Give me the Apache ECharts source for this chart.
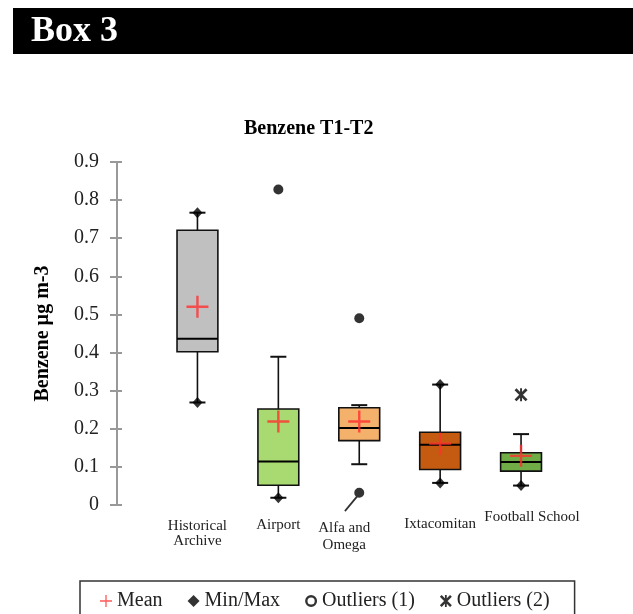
<!DOCTYPE html>
<html>
<head>
<meta charset="utf-8">
<script src="https://cdn.jsdelivr.net/npm/echarts@6/dist/echarts.min.js"></script>
<style>html,body{margin:0;padding:0;background:#fff}#c{width:633px;height:614px}</style>
</head>
<body>
<div id="c"></div>
<script>
// ---- data ----
const categories = ['Historical\nArchive', 'Airport', 'Alfa and\nOmega', 'Ixtacomitan', 'Football School'];
const whiskerLow  = [0.269, 0.019, 0.107, 0.058, 0.051];
const q1Vals      = [0.402, 0.052, 0.169, 0.093, 0.089];
const medianVals  = [0.436, 0.114, 0.202, 0.158, 0.113];
const q3Vals      = [0.721, 0.252, 0.255, 0.191, 0.137];
const whiskerHigh = [0.767, 0.389, 0.262, 0.316, 0.186];
const meanVals    = [0.520, 0.219, 0.219, 0.161, 0.129];
const minVals     = [0.269, 0.019, null, 0.058, 0.051];
const maxVals     = [0.767, null, null, 0.316, null];
const outliers1   = [[1, 0.828], [2, 0.490], [2, 0.032]];
const outliers2   = [[4, 0.289]];
const yTicks      = ['0', '0.1', '0.2', '0.3', '0.4', '0.5', '0.6', '0.7', '0.8', '0.9'];
const boxColors   = ['#c0c0c0', '#a9d971', '#f4b16b', '#c55a11', '#70ad47'];

const FONT = 'Liberation Serif';
const TXT = '#222';

const boxData = categories.map((c, i) => [i, whiskerLow[i], q1Vals[i], medianVals[i], q3Vals[i], whiskerHigh[i]]);
const meanData = meanVals.map((v, i) => [i, v]);
const minMaxData = [];
minVals.forEach((v, i) => { if (v !== null) minMaxData.push([i, v]); });
maxVals.forEach((v, i) => { if (v !== null) minMaxData.push([i, v]); });

const PLUS = 'path://M0,9.8 L22,9.8 L22,12.2 L0,12.2 Z M9.8,0 L12.2,0 L12.2,22 L9.8,22 Z';
const STAR = 'path://M0,1.8 L1.8,0 L12,10.2 L10.2,12 Z M10.2,0 L12,1.8 L1.8,12 L0,10.2 Z M5.1,0 L6.9,0 L6.9,12 L5.1,12 Z';
const PIN  = 'path://M10,5 A5,5 0 1,1 20,5 A5,5 0 1,1 10,5 Z M12.6,7.4 L14,8.6 L1.3,24 L0,22.8 Z';
const RING = 'path://M0,5 A5,5 0 1,1 10,5 A5,5 0 1,1 0,5 Z M2,5 A3,3 0 1,0 8,5 A3,3 0 1,0 2,5 Z';

const out1Data = outliers1.map((p) => {
  if (p[1] < 0.1) {
    return { value: p, symbol: PIN, symbolSize: [20, 24], symbolOffset: [-5, 7] };
  }
  return { value: p };
});

function renderBox(params, api) {
  const i = api.value(0);
  const lo = api.coord([i, api.value(1)]);
  const q1 = api.coord([i, api.value(2)]);
  const md = api.coord([i, api.value(3)]);
  const q3 = api.coord([i, api.value(4)]);
  const hi = api.coord([i, api.value(5)]);
  const band = api.size([1, 0])[0];
  const bw = band * 0.505;
  const cap = 16;
  const x = q1[0];
  const ls = { stroke: '#111', lineWidth: 1.6 };
  return {
    type: 'group',
    children: [
      { type: 'line', shape: { x1: x, y1: q3[1], x2: x, y2: hi[1] }, style: ls },
      { type: 'line', shape: { x1: x, y1: q1[1], x2: x, y2: lo[1] }, style: ls },
      { type: 'line', shape: { x1: x - cap / 2, y1: hi[1], x2: x + cap / 2, y2: hi[1] }, style: { stroke: '#111', lineWidth: 2 } },
      { type: 'line', shape: { x1: x - cap / 2, y1: lo[1], x2: x + cap / 2, y2: lo[1] }, style: { stroke: '#111', lineWidth: 2 } },
      { type: 'rect', shape: { x: x - bw / 2, y: q3[1], width: bw, height: q1[1] - q3[1] },
        style: { fill: boxColors[params.dataIndex], stroke: '#111', lineWidth: 1.6 } },
      { type: 'line', shape: { x1: x - bw / 2, y1: md[1], x2: x + bw / 2, y2: md[1] }, style: { stroke: '#000', lineWidth: 2 } }
    ]
  };
}

const labelPads = [[9, 0, 0, 0], [8, 0, 0, 0], [10, 30, 0, 0], [6.5, 0, 0, 0], [0, 0, 0, 22]];
const labelLH = [15, 15, 17, 15, 15];

const chart = echarts.init(document.getElementById('c'));
chart.setOption({
  animation: false,
  backgroundColor: '#fff',
  textStyle: { fontFamily: FONT },
  title: {
    text: 'Benzene T1-T2',
    left: 239, top: 114,
    textStyle: { fontFamily: FONT, fontSize: 20, fontWeight: 'bold', color: '#000' }
  },
  graphic: [
    { type: 'rect', shape: { x: 13, y: 8, width: 620, height: 46 }, style: { fill: '#000' } },
    { type: 'text', x: 31, y: 32, style: { text: 'Box 3', fill: '#fff', font: 'bold 36px "Liberation Serif"', verticalAlign: 'middle' } }
  ],
  legend: {
    left: 80, top: 581,
    padding: [10, 25, 10, 20],
    borderColor: '#333', borderWidth: 1.5,
    itemWidth: 12, itemHeight: 12, itemGap: 25,
    textStyle: { fontFamily: FONT, fontSize: 20, color: TXT },
    data: [
      { name: 'Mean', icon: PLUS },
      { name: 'Min/Max', icon: 'diamond' },
      { name: 'Outliers (1)', icon: RING },
      { name: 'Outliers (2)', icon: STAR }
    ]
  },
  grid: { left: 157, right: 71.5, top: 162, bottom: 109 },
  xAxis: {
    type: 'category',
    data: categories.map((c, i) => ({ value: c, textStyle: { padding: labelPads[i], lineHeight: labelLH[i] } })),
    axisLine: { show: false },
    axisTick: { show: false },
    axisLabel: { fontFamily: FONT, fontSize: 15, color: TXT, margin: 5, interval: 0, lineHeight: 15 }
  },
  yAxis: [
    {
      type: 'value', min: 0, max: 0.9, interval: 0.1, offset: 40,
      name: 'Benzene µg m-3', nameLocation: 'middle', nameRotate: 90, nameGap: 64,
      nameTextStyle: { fontFamily: FONT, fontSize: 20, fontWeight: 'bold', color: '#000' },
      axisLine: { show: true, lineStyle: { color: '#999', width: 2 } },
      axisTick: { show: true, length: 7, lineStyle: { color: '#999', width: 2 } },
      splitLine: { show: false },
      axisLabel: { fontFamily: FONT, fontSize: 20, color: TXT, margin: 18,
        formatter: (v) => yTicks[Math.round(v * 10)] }
    },
    {
      type: 'value', min: 0, max: 0.9, interval: 0.1, offset: 40, position: 'left',
      axisLine: { show: false },
      axisTick: { show: true, inside: true, length: 5, lineStyle: { color: '#999', width: 2 } },
      splitLine: { show: false },
      axisLabel: { show: false }
    }
  ],
  series: [
    {
      type: 'custom', name: 'Box', renderItem: renderBox, data: boxData,
      encode: { x: 0, y: [1, 2, 3, 4, 5] }, z: 2
    },
    {
      type: 'scatter', name: 'Min/Max', data: minMaxData, symbol: 'diamond', symbolSize: [10, 11],
      itemStyle: { color: '#000' }, z: 3
    },
    {
      type: 'scatter', name: 'Outliers (1)', data: out1Data, symbol: 'circle', symbolSize: 10,
      itemStyle: { color: '#000' }, z: 3
    },
    {
      type: 'scatter', name: 'Outliers (2)', data: outliers2, symbol: STAR, symbolSize: 13,
      itemStyle: { color: '#000' }, z: 3
    },
    {
      type: 'scatter', name: 'Mean', data: meanData, symbol: PLUS, symbolSize: 22,
      itemStyle: { color: '#ff3030' }, z: 4
    }
  ]
});
</script>
</body>
</html>
